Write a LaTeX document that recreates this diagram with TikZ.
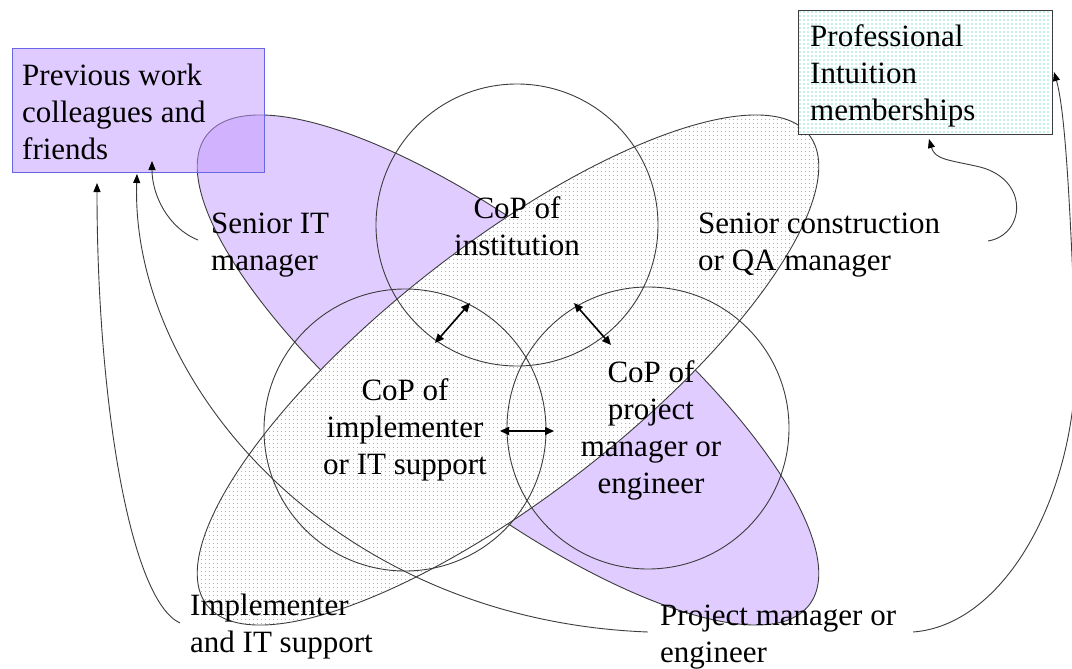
\documentclass[tikz,border=0pt]{standalone}
\usepackage{fontspec}
\setmainfont{Liberation Serif}
\usetikzlibrary{arrows.meta,patterns}
\definecolor{lilac}{RGB}{224,204,255}
\definecolor{boxlilac}{RGB}{193,153,255}
\definecolor{boxedge}{RGB}{102,102,230}
\definecolor{linegray}{RGB}{60,60,60}
\definecolor{tealdot}{RGB}{0,200,160}
\definecolor{stipple}{RGB}{120,120,120}
\pgfdeclarepatterninherentlycolored{graydots}{\pgfpointorigin}{\pgfpoint{4pt}{4pt}}{\pgfpoint{4pt}{4pt}}{%
  \pgfsetfillcolor{stipple}%
  \pgfpathcircle{\pgfpoint{2pt}{2pt}}{0.5pt}%
  \pgfusepath{fill}}
\begin{document}
\begin{tikzpicture}[x=1pt,y=-1pt,
  lbl/.style={font=\fontsize{31}{37}\selectfont, inner sep=0pt, anchor=base west, align=left},
  clbl/.style={font=\fontsize{31}{37}\selectfont, inner sep=0pt, anchor=base, align=center},
  outline/.style={draw=linegray, line width=0.9pt},
  cop/.style={circle, outline, minimum size=282pt, inner sep=0pt},
  link/.style={draw=linegray, line width=0.9pt, -{Triangle[length=9pt,width=7pt,color=black]}},
  both/.style={line width=1.6pt, {Triangle[length=9pt,width=8pt]}-{Triangle[length=9pt,width=8pt]}},
]
\useasboundingbox (0,0) rectangle (1072,669);
\fill[white] (0,0) rectangle (1072,669);

% purple ellipse (Senior IT manager / Project manager)
\path[outline, fill=lilac, shift={(508,370)}, rotate=-38] (0,0) ellipse [x radius=382pt, y radius=125pt];
% stippled ellipse (Implementer / Senior construction)
\path[outline, preaction={fill=white}, pattern=graydots,
  shift={(508,370)}, rotate=38] (0,0) ellipse [x radius=382pt, y radius=125pt];

% boxes
\node[draw=boxedge, line width=0.9pt, fill=boxlilac, fill opacity=0.5, anchor=north west,
  minimum width=252pt, minimum height=124pt, inner sep=0pt] (prev) at (12,48) {};
\node[draw=linegray, line width=0.9pt, fill=white, anchor=north west,
  minimum width=254pt, minimum height=124pt, inner sep=0pt] (prof) at (798,10) {};
\begin{scope}
  \clip (799,11) rectangle (1051,133);
  \foreach \i in {0,...,63} {
    \foreach \j in {0,...,31} {
      \fill[tealdot] (800+4*\i,12+4*\j) circle [radius=0.7pt];
    }
  }
\end{scope}

% circles
\node[cop] (inst) at (517,225) {};
\node[cop] (impl) at (405,430) {};
\node[cop] (pm) at (648,428) {};

% texts (anchor at baseline of the last line)
\node[lbl] (prevtxt) at (22,159) {Previous work\\colleagues and\\friends};
\node[lbl] (proftxt) at (810,121) {Professional\\Intuition\\memberships};
\node[lbl] (seniorit) at (211,270) {Senior IT\\manager};
\node[lbl] (seniorcon) at (698,270) {Senior construction\\or QA manager};
\node[clbl] (insttxt) at (517,255) {CoP of\\institution};
\node[clbl] (impltxt) at (405,474) {CoP of\\implementer\\or IT support};
\node[clbl] (pmtxt) at (651,493) {CoP of\\project\\manager or\\engineer};
\node[lbl] (impllbl) at (190,652) {Implementer\\and IT support};
\node[lbl] (pmlbl) at (660,662) {Project manager or\\engineer};

% double arrows between communities
\coordinate (a1) at (435,343); \coordinate (a2) at (470,303);
\coordinate (b1) at (574,303); \coordinate (b2) at (611,345);
\coordinate (c1) at (500,431); \coordinate (c2) at (554,431);
\draw[both] (a1) -- (a2);
\draw[both] (b1) -- (b2);
\draw[both] (c1) -- (c2);

% links to boxes
\coordinate (s1) at (198,240); \coordinate (t1) at (152,161);
\draw[link] (s1) .. controls (168,228) and (152,195) .. (t1);
\coordinate (s2) at (648,632); \coordinate (t2) at (137,174);
\draw[link] (s2) .. controls (330,620) and (130,380) .. (t2);
\coordinate (s3) at (180,623); \coordinate (t3) at (97,183);
\draw[link] (s3) .. controls (130,600) and (97,400) .. (t3);
\coordinate (s4) at (988,241); \coordinate (m4) at (980,167); \coordinate (t4) at (929,139);
\draw[link] (s4) .. controls (1025,235) and (1030,180) .. (m4) .. controls (950,160) and (935,160) .. (t4);
\coordinate (s5) at (913,632); \coordinate (m5) at (1075,330); \coordinate (t5) at (1054,72);
\draw[link] (s5) .. controls (1010,625) and (1085,480) .. (m5) .. controls (1070,200) and (1065,110) .. (t5);
\end{tikzpicture}
\end{document}
